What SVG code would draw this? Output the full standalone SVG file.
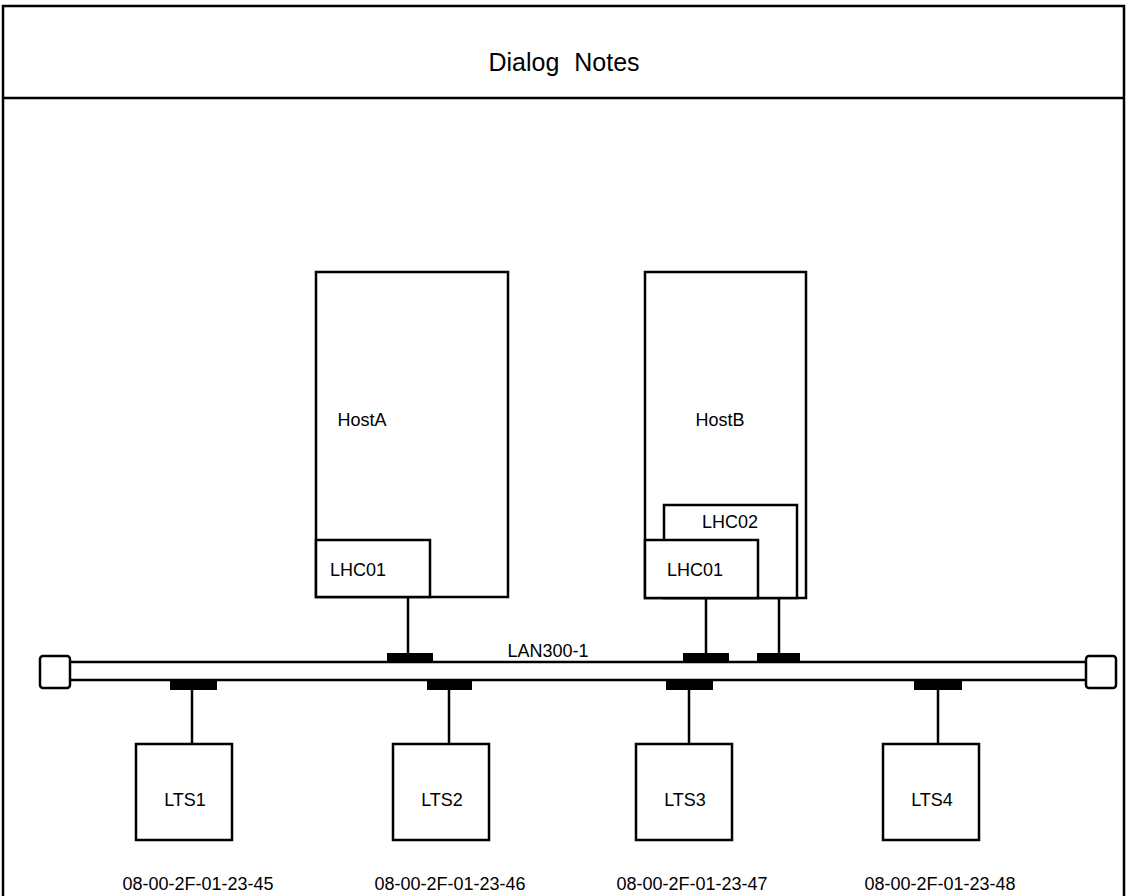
<svg xmlns="http://www.w3.org/2000/svg" width="1126" height="896" viewBox="0 0 1126 896">
<style>
.box{fill:#fff;stroke:#000;stroke-width:2.5}
.ln{stroke:#000;stroke-width:2.5;fill:none}
.tap{fill:#000}
.t{font-family:"Liberation Sans",Arial,sans-serif;font-size:18px;fill:#000;text-anchor:middle}
.title{font-family:"Liberation Sans",Arial,sans-serif;font-size:25px;fill:#000;text-anchor:middle;word-spacing:8px}
</style>
<rect width="1126" height="896" fill="#fff"/>
<g id="frame">
<path class="ln" d="M3,896 V6 H1124 V896 M3,98 H1124" stroke-width="2"/>
<text class="title" x="564" y="71">Dialog Notes</text>
</g>
<g id="HostA">
<rect class="box" x="316" y="272" width="192" height="325"/>
<text class="t" x="362" y="426">HostA</text>
</g>
<g id="HostA-LHC01">
<rect class="box" x="316" y="540" width="114" height="57"/>
<text class="t" x="358" y="576">LHC01</text>
</g>
<g id="HostB">
<rect class="box" x="645" y="272" width="161" height="326"/>
<text class="t" x="720" y="426">HostB</text>
</g>
<g id="HostB-LHC02">
<rect class="box" x="664" y="505" width="133" height="93"/>
<text class="t" x="730" y="528">LHC02</text>
</g>
<g id="HostB-LHC01">
<rect class="box" x="645" y="540" width="113" height="58"/>
<text class="t" x="695" y="576">LHC01</text>
</g>
<g id="LAN300-1">
<path class="ln" d="M70,662 H1086 M70,680 H1086"/>
<rect class="box" x="40" y="656" width="30" height="32" rx="3"/>
<rect class="box" x="1086" y="656" width="30" height="32" rx="3"/>
<text class="t" x="548" y="657">LAN300-1</text>
</g>
<g id="connectors">
<path class="ln" d="M408,597 V655 M706,598 V655 M779,598 V655 M192,688 V744 M449,688 V744 M689,688 V744 M938,688 V744"/>
<rect class="tap" x="387" y="653" width="46" height="10"/>
<rect class="tap" x="683" y="653" width="46" height="10"/>
<rect class="tap" x="757" y="653" width="43" height="10"/>
<rect class="tap" x="170" y="680" width="47" height="10"/>
<rect class="tap" x="427" y="680" width="45" height="10"/>
<rect class="tap" x="666" y="680" width="47" height="10"/>
<rect class="tap" x="914" y="680" width="48" height="10"/>
</g>
<g id="LTS1">
<rect class="box" x="136" y="744" width="96" height="96"/>
<text class="t" x="185" y="806">LTS1</text>
<text class="t" x="198" y="890">08-00-2F-01-23-45</text>
</g>
<g id="LTS2">
<rect class="box" x="393" y="744" width="96" height="96"/>
<text class="t" x="442" y="806">LTS2</text>
<text class="t" x="450" y="890">08-00-2F-01-23-46</text>
</g>
<g id="LTS3">
<rect class="box" x="636" y="744" width="96" height="96"/>
<text class="t" x="685" y="806">LTS3</text>
<text class="t" x="692" y="890">08-00-2F-01-23-47</text>
</g>
<g id="LTS4">
<rect class="box" x="883" y="744" width="96" height="96"/>
<text class="t" x="932" y="806">LTS4</text>
<text class="t" x="940" y="890">08-00-2F-01-23-48</text>
</g>
</svg>
